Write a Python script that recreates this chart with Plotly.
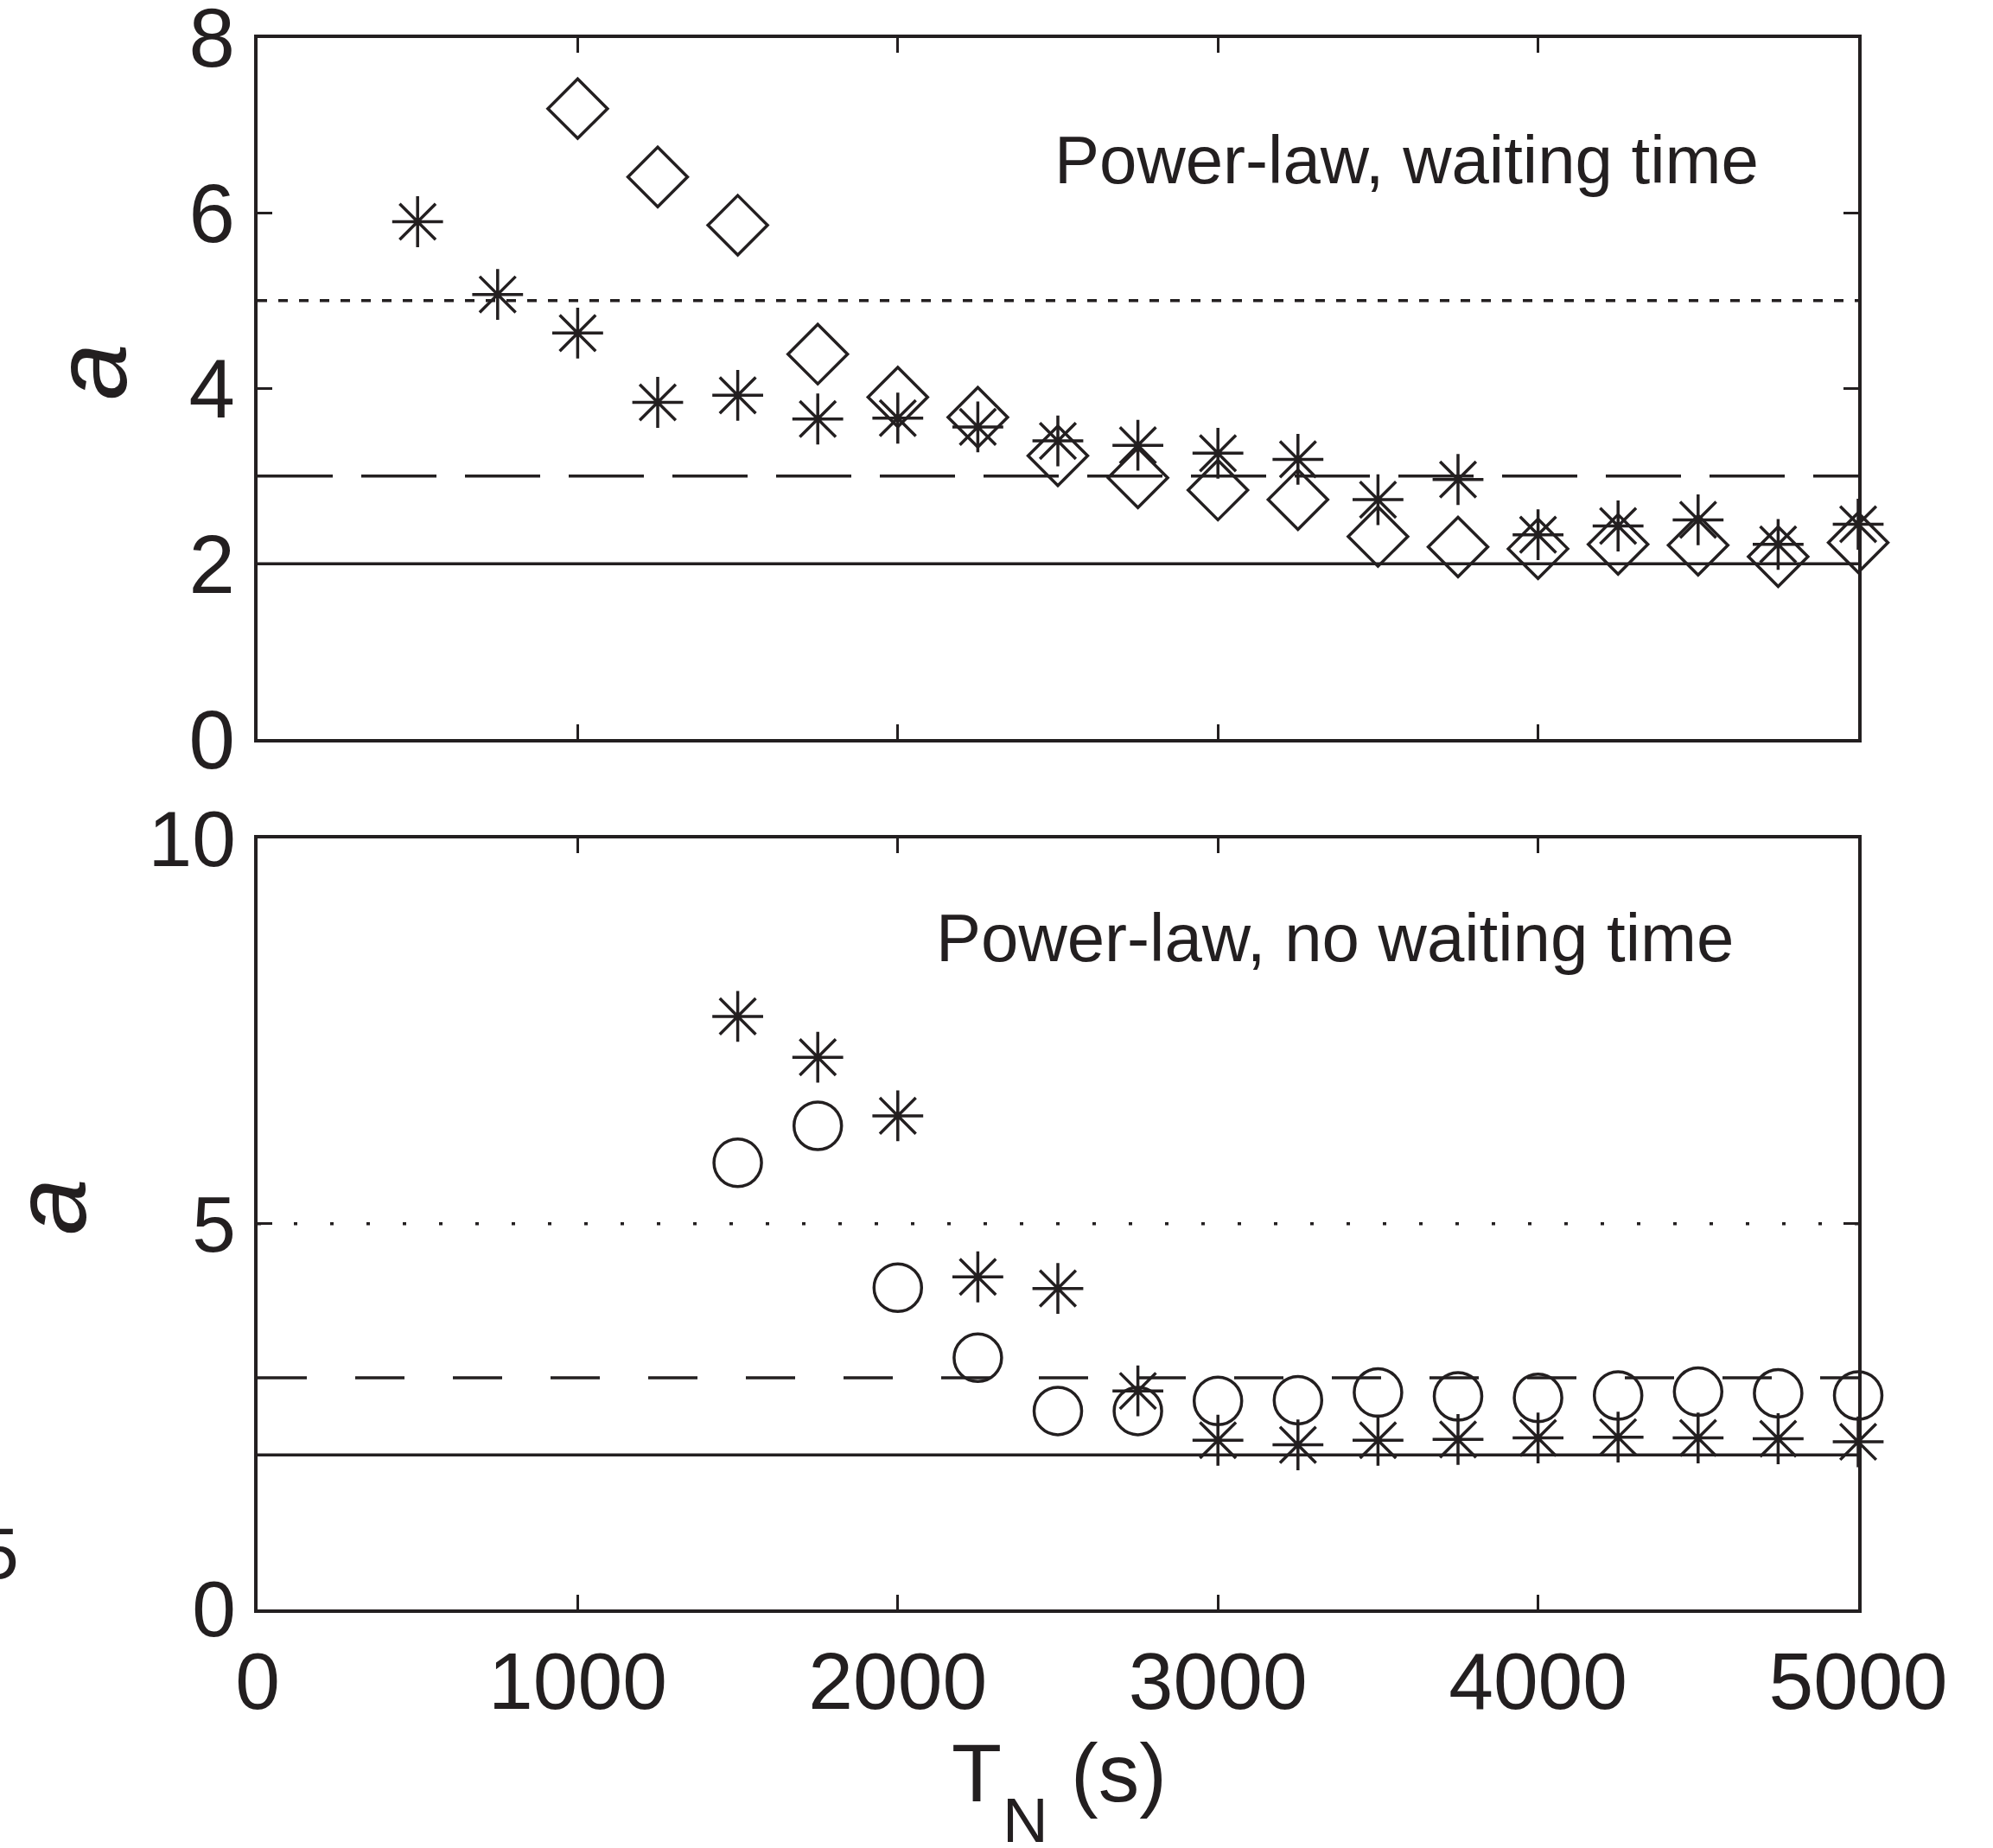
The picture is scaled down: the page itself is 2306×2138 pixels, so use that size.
import plotly.graph_objects as go

# ---------------- data ----------------
tn_top_star = [500, 750, 1000, 1250, 1500, 1750, 2000, 2250, 2500, 2750,
               3000, 3250, 3500, 3750, 4000, 4250, 4500, 4750, 5000]
a_top_star = [5.90, 5.07, 4.63, 3.84, 3.92, 3.65, 3.66, 3.56, 3.40, 3.35,
              3.26, 3.19, 2.73, 2.96, 2.33, 2.43, 2.50, 2.22, 2.45]

tn_top_diam = [1000, 1250, 1500, 1750, 2000, 2250, 2500, 2750, 3000, 3250,
               3500, 3750, 4000, 4250, 4500, 4750, 5000]
a_top_diam = [7.19, 6.41, 5.86, 4.39, 3.90, 3.67, 3.23, 2.98, 2.84, 2.73,
              2.31, 2.19, 2.17, 2.22, 2.21, 2.08, 2.24]

tn_bot = [1500, 1750, 2000, 2250, 2500, 2750, 3000, 3250, 3500, 3750,
          4000, 4250, 4500, 4750, 5000]
a_bot_star = [7.69, 7.16, 6.40, 4.31, 4.16, 2.83, 2.19, 2.13, 2.19, 2.20,
              2.22, 2.23, 2.22, 2.21, 2.17]
a_bot_circ = [5.79, 6.27, 4.17, 3.26, 2.57, 2.57, 2.70, 2.71, 2.81, 2.76,
              2.74, 2.77, 2.82, 2.80, 2.77]

ref_levels = [2, 3, 5]          # solid, dashed, dotted reference lines
x_ticks = [0, 1000, 2000, 3000, 4000, 5000]
y_ticks_top = [0, 2, 4, 6, 8]
y_ticks_bot = [0, 5, 10]

title_top = "Power-law, waiting time"
title_bot = "Power-law, no waiting time"

# ---------------- style ----------------
W, H = 2306, 2138
INK = "#231f20"
FONT = "Liberation Sans, Arial, Helvetica, sans-serif"


def px_x(p):
    return p / W


def px_y(p):
    return 1 - p / H


fig = go.Figure()

# reference lines
top_dash = {2: "solid", 3: "87px,33px", 5: "11px,13px"}
bot_dash = {2: "solid", 3: "57px,56px", 5: "4px,38px"}
for lvl in ref_levels:
    fig.add_trace(go.Scatter(x=[0, 5000], y=[lvl, lvl], mode="lines",
                             line=dict(color=INK, width=3.5, dash=top_dash[lvl]),
                             xaxis="x", yaxis="y", showlegend=False, hoverinfo="skip"))
    fig.add_trace(go.Scatter(x=[0, 5000], y=[lvl, lvl], mode="lines",
                             line=dict(color=INK, width=3.5, dash=bot_dash[lvl]),
                             xaxis="x2", yaxis="y2", showlegend=False, hoverinfo="skip"))

star = dict(symbol="asterisk-open", size=49, color=INK, line=dict(color=INK, width=3.5))
diam = dict(symbol="diamond-open", size=53, color=INK, line=dict(color=INK, width=3.5))
circ = dict(symbol="circle-open", size=55, color=INK, line=dict(color=INK, width=3.5))

fig.add_trace(go.Scatter(x=tn_top_diam, y=a_top_diam, mode="markers", marker=diam,
                         xaxis="x", yaxis="y", showlegend=False, cliponaxis=False))
fig.add_trace(go.Scatter(x=tn_top_star, y=a_top_star, mode="markers", marker=star,
                         xaxis="x", yaxis="y", showlegend=False, cliponaxis=False))
fig.add_trace(go.Scatter(x=tn_bot, y=a_bot_circ, mode="markers", marker=circ,
                         xaxis="x2", yaxis="y2", showlegend=False, cliponaxis=False))
fig.add_trace(go.Scatter(x=tn_bot, y=a_bot_star, mode="markers", marker=star,
                         xaxis="x2", yaxis="y2", showlegend=False, cliponaxis=False))

xdom = [px_x(298), px_x(2150)]
common_ax = dict(showline=True, linecolor=INK, linewidth=4, mirror="ticks",
                 ticks="inside", ticklen=17, tickwidth=3, tickcolor=INK,
                 showgrid=False, zeroline=False, automargin=False,
                 ticklabeloverflow="allow",
                 tickfont=dict(family=FONT, color=INK, size=93))

fig.update_layout(
    width=W, height=H,
    margin=dict(l=0, r=0, t=0, b=0, pad=0),
    paper_bgcolor="white", plot_bgcolor="white",
    font=dict(family=FONT, color=INK),
    xaxis=dict(domain=xdom, range=[0, 5000], tickvals=x_ticks, showticklabels=False,
               anchor="y", **common_ax),
    yaxis=dict(domain=[px_y(855), px_y(43.5)], range=[0, 8], tickvals=y_ticks_top,
               anchor="x", ticklabelstandoff=3,
               **{**common_ax, "tickfont": dict(family=FONT, color=INK, size=96)}),
    xaxis2=dict(domain=xdom, range=[0, 5000], tickvals=x_ticks, anchor="y2",
                ticklabelstandoff=0, **common_ax),
    yaxis2=dict(domain=[px_y(1861.5), px_y(970)], range=[0, 10], tickvals=y_ticks_bot,
                anchor="x2", ticklabelstandoff=3,
                **{**common_ax, "tickfont": dict(family=FONT, color=INK, size=91)}),
)

ann = []
ann.append(dict(text=title_top, x=px_x(1627.5), y=px_y(184.7), xref="paper", yref="paper",
                xanchor="center", yanchor="middle", showarrow=False,
                font=dict(family=FONT, size=78, color=INK)))
ann.append(dict(text=title_bot, x=px_x(1544.6), y=px_y(1084.7), xref="paper", yref="paper",
                xanchor="center", yanchor="middle", showarrow=False,
                font=dict(family=FONT, size=78, color=INK)))
# y-axis labels (italic a)
ann.append(dict(text="<i>a</i>", x=px_x(105), y=px_y(430), xref="paper", yref="paper",
                xanchor="center", yanchor="middle", showarrow=False, textangle=-90,
                font=dict(family=FONT, size=118, color=INK)))
ann.append(dict(text="<i>a</i>", x=px_x(58), y=px_y(1396), xref="paper", yref="paper",
                xanchor="center", yanchor="middle", showarrow=False, textangle=-90,
                font=dict(family=FONT, size=118, color=INK)))
# x-axis label T_N (s)
ann.append(dict(text="T", x=px_x(1129.5), y=px_y(2051), xref="paper", yref="paper",
                xanchor="center", yanchor="middle", showarrow=False,
                font=dict(family=FONT, size=95, color=INK)))
ann.append(dict(text="N", x=px_x(1186), y=px_y(2105), xref="paper", yref="paper",
                xanchor="center", yanchor="middle", showarrow=False,
                font=dict(family=FONT, size=73, color=INK)))
ann.append(dict(text="(s)", x=px_x(1294), y=px_y(2051), xref="paper", yref="paper",
                xanchor="center", yanchor="middle", showarrow=False,
                font=dict(family=FONT, size=95, color=INK)))
# stray clipped label from neighbouring panel at the left edge
ann.append(dict(text="5", x=px_x(24), y=px_y(1797), xref="paper", yref="paper",
                xanchor="right", yanchor="middle", showarrow=False,
                font=dict(family=FONT, size=84, color=INK)))
fig.update_layout(annotations=ann)

fig.write_html("out.html", config={"displayModeBar": False})
